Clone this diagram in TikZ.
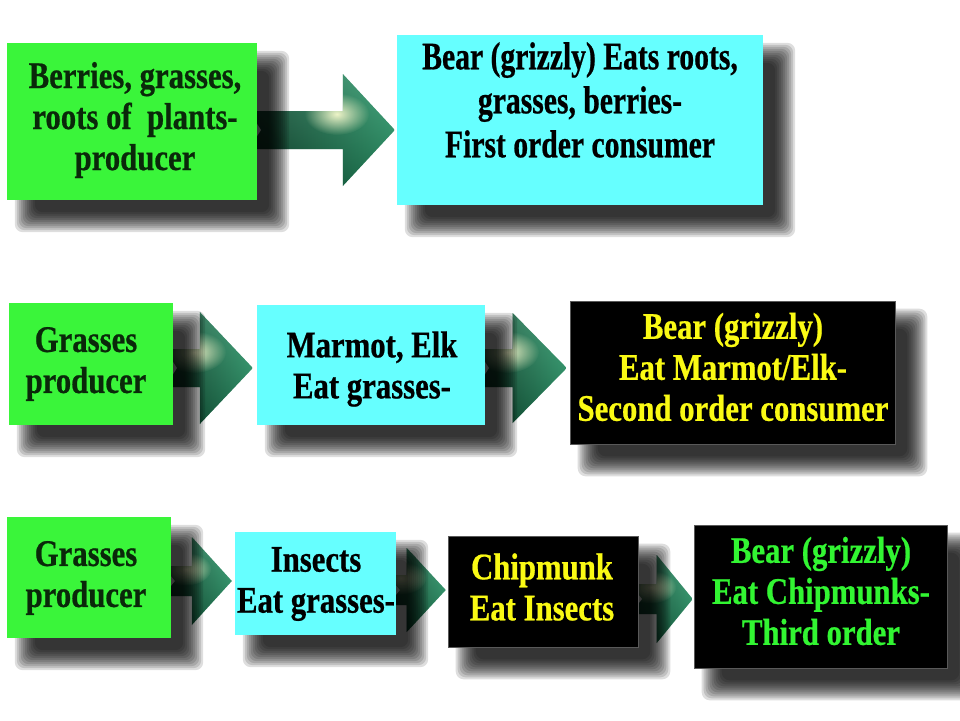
\documentclass[tikz,border=0pt]{standalone}
\usepackage{fontspec}
\setmainfont{Liberation Serif}
\newfontfamily\fa[FakeStretch=0.82,FakeBold=0.6]{Liberation Serif}
\newfontfamily\fb[FakeStretch=0.76,FakeBold=0.6]{Liberation Serif}
\usetikzlibrary{calc,fadings}

\definecolor{boxgreen}{RGB}{58,245,58}
\definecolor{boxcyan}{RGB}{102,255,255}
\definecolor{txtyellow}{RGB}{250,250,20}
\definecolor{txtgreen}{RGB}{50,245,50}
\definecolor{txtdark}{RGB}{10,40,10}
\definecolor{arrdark}{RGB}{10,52,34}
\definecolor{arrlight}{RGB}{44,158,110}
\definecolor{glowcol}{RGB}{238,244,200}

\tikzfading[name=glowfade, inner color=transparent!0, outer color=transparent!100]

\pgfdeclarelayer{bg}
\pgfdeclarelayer{mid}
\pgfsetlayers{bg,mid,main}

\tikzset{
  panel/.style={inner sep=0, draw=none},
  greenpanel/.style={panel, fill=boxgreen},
  cyanpanel/.style={panel, fill=boxcyan},
  blackpanel/.style={panel, fill=black, draw=black!65, line width=0.6},
  boxtext/.style={inner sep=0, align=center, font=\fa\bfseries\fontsize{37.5}{41}\selectfont},
  bigtext/.style={inner sep=0, align=center, font=\fb\bfseries\fontsize{39}{44}\selectfont},
}

% #1 tail node, #2 target node, #3 tip shift from target west, #4 head length, #5 half head, #6 half shaft
\newcommand\fatarrow[6]{%
  \coordinate (tip) at ([shift={#3}]#2.west);
  \coordinate (tail) at ($(#1.east |- tip)+(-8,0)$);
  \begin{scope}
    \clip ($(tail)+(0,-#6)$) -- ($(tip)+(-#4,-#6)$) -- ($(tip)+(-#4,-#5)$) -- (tip)
      -- ($(tip)+(-#4,#5)$) -- ($(tip)+(-#4,#6)$) -- ($(tail)+(0,#6)$) -- ($(tail)+(12,0)$) -- cycle;
    \shade[left color=arrdark, right color=arrlight] ($(tail)+(0,-#5)$) rectangle ($(tip)+(0,#5)$);
    \shade[top color=arrlight!60!white, bottom color=arrdark, opacity=0.35] ($(tail)+(0,-#5)$) rectangle ($(tip)+(0,#5)$);
    \fill[glowcol, path fading=glowfade] ($(tip)+(-#4-6,-#6+3)$) ellipse [x radius=#6*1.7pt, y radius=#6*1.1pt];
  \end{scope}}

\newcommand\boxshadow[1]{%
  \foreach \e in {12,10,...,-8}{
    \fill[black, opacity=0.13, rounded corners=8pt]
      ($(#1.north west)+({20-(\e)},{20-(\e)})$) rectangle ($(#1.south east)+({20+(\e)},{20+(\e)})$);
  }}

\begin{document}
\begin{tikzpicture}[x=1pt,y=-1pt]
\begin{pgfonlayer}{bg}
  \fill[white] (0,0) rectangle (960,720);
\end{pgfonlayer}
\useasboundingbox (0,0) rectangle (960,720);

% boxes
\node[greenpanel, minimum width=250, minimum height=157] (a1) at (132,121.5) {};
\node[cyanpanel,  minimum width=366, minimum height=170] (b1) at (580,120) {};
\node[greenpanel, minimum width=164, minimum height=122] (a2) at (91,364) {};
\node[cyanpanel,  minimum width=228, minimum height=120] (b2) at (371,365) {};
\node[blackpanel, minimum width=325, minimum height=143] (c2) at (732.5,372.5) {};
\node[greenpanel, minimum width=164, minimum height=121] (a3) at (89,577.5) {};
\node[cyanpanel,  minimum width=161, minimum height=103] (b3) at (315.5,583.5) {};
\node[blackpanel, minimum width=190, minimum height=111] (c3) at (543,591.5) {};
\node[blackpanel, minimum width=253, minimum height=143] (d3) at (820.5,596.5) {};

% texts
\node[boxtext, text=txtdark] (a1t) at (135,120) {Berries, grasses,\\roots of\ \ plants-\\producer};
\node[bigtext, text=black] (b1t) at (580,100) {Bear (grizzly) Eats roots,\\grasses, berries-\\First order consumer};
\node[boxtext, text=txtdark] (a2t) at (86,364) {Grasses\\producer};
\node[boxtext, text=black] (b2t) at (372,369) {Marmot, Elk\\Eat grasses-};
\node[boxtext, text=txtyellow] (c2t) at (733,367) {Bear (grizzly)\\Eat Marmot/Elk-\\Second order consumer};
\node[boxtext, text=txtdark] (a3t) at (86,578) {Grasses\\producer};
\node[boxtext, text=black] (b3t) at (316,584) {Insects\\Eat grasses-};
\node[boxtext, text=txtyellow] (c3t) at (542,587) {Chipmunk\\Eat Insects};
\node[boxtext, text=txtgreen] (d3t) at (821,591) {Bear (grizzly)\\Eat Chipmunks-\\Third order};

% arrows
\begin{pgfonlayer}{bg}
  \fatarrow{a1}{b1}{(-2,10)}{52}{56}{19}
  \fatarrow{a2}{b2}{(-4,3)}{53}{56}{19}
  \fatarrow{b2}{c2}{(-3,-4.5)}{54}{55}{19}
  \fatarrow{a3}{b3}{(-3,-2.5)}{40}{44}{15}
  \fatarrow{b3}{c3}{(-2,-1.5)}{39}{42}{15}
  \fatarrow{c3}{d3}{(-1,2.5)}{36}{44}{15}
\end{pgfonlayer}

% shadows
\begin{pgfonlayer}{mid}
  \boxshadow{a1}\boxshadow{b1}
  \boxshadow{a2}\boxshadow{b2}\boxshadow{c2}
  \boxshadow{a3}\boxshadow{b3}\boxshadow{c3}\boxshadow{d3}
\end{pgfonlayer}
\end{tikzpicture}
\end{document}
